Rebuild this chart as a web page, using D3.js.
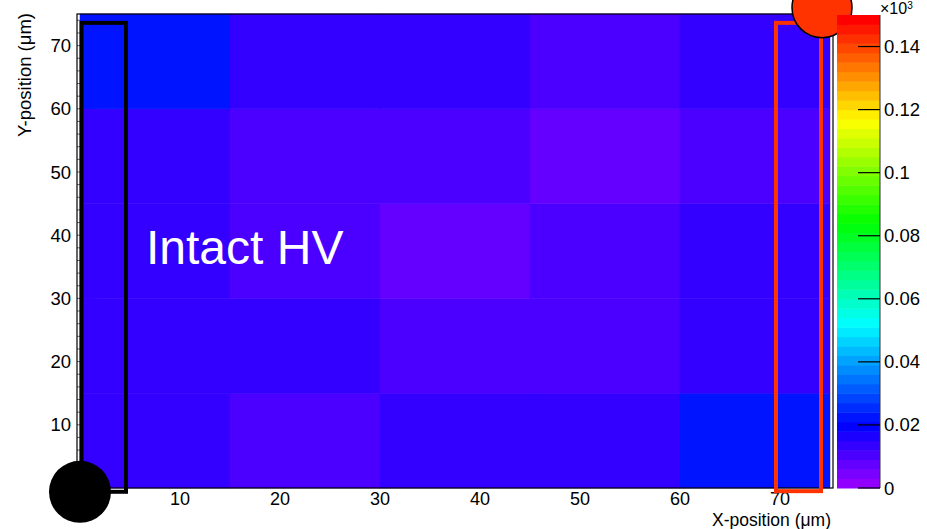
<!DOCTYPE html>
<html>
<head>
<meta charset="utf-8">
<script src="https://cdn.jsdelivr.net/npm/d3@7"></script>
<style>
  html, body { margin: 0; padding: 0; background: #fff; }
  svg { display: block; font-family: "Liberation Sans", Arial, Helvetica, sans-serif; }
</style>
</head>
<body>
<svg id="chart" width="927" height="529"></svg>
<script>
// bin edges (um)
const xEdges = [0, 15, 30, 45, 60, 75];
const yEdges = [0, 15, 30, 45, 60, 75];
// cell contents, one row per y bin, bottom row first
const row0 = [0.0131, 0.0112, 0.0138, 0.0129, 0.0226];
const row1 = [0.0133, 0.0136, 0.0108, 0.0114, 0.0132];
const row2 = [0.0130, 0.0110, 0.0081, 0.0113, 0.0134];
const row3 = [0.0128, 0.0106, 0.0109, 0.0083, 0.0111];
const row4 = [0.0224, 0.0132, 0.0135, 0.0107, 0.0131];
const rows = [row0, row1, row2, row3, row4];

const xTicks = [10, 20, 30, 40, 50, 60, 70];
const yTicks = [10, 20, 30, 40, 50, 60, 70];
const zTicks = [0, 0.02, 0.04, 0.06, 0.08, 0.1, 0.12, 0.14];
const zTickLabels = ['0', '0.02', '0.04', '0.06', '0.08', '0.1', '0.12', '0.14'];
const zMax = 0.15;
const nColors = 50;

const svg = d3.select('#chart');
const frame = { left: 77, right: 833, top: 14, bottom: 488 };

const x = d3.scaleLinear().domain([-0.3, 75.3]).range([frame.left, frame.right]);
const y = d3.scaleLinear().domain([0, 75]).range([frame.bottom, frame.top]);
const z = d3.scaleLinear().domain([0, zMax]).range([488, 15]);

// ROOT "pretty" palette: 50 hues from violet to red
const palette = d3.range(nColors).map(i =>
    i === nColors - 1 ? '#ff0000' : d3.hsl(280 - (i + 1) * 5.6, 1, 0.5).formatHex());
const colorOf = v => palette[Math.min(nColors - 1, Math.max(0, Math.floor(v / zMax * nColors)))];

// y axis ticks, drawn inward before the cells so only the edge strip shows
const yMinor = d3.range(0, 76, 2);
svg.append('g').selectAll('line')
    .data(yMinor)
    .join('line')
    .attr('x1', frame.left)
    .attr('x2', d => frame.left + (d % 10 === 0 ? 20 : 10))
    .attr('y1', d => y(d))
    .attr('y2', d => y(d))
    .attr('stroke', '#666')
    .attr('stroke-width', 1);

// cells
const cells = [];
rows.forEach((r, j) => r.forEach((v, i) => cells.push({ i, j, v })));
svg.append('g').selectAll('rect')
    .data(cells)
    .join('rect')
    .attr('x', d => x(xEdges[d.i]))
    .attr('y', d => y(yEdges[d.j + 1]))
    .attr('width', d => x(xEdges[d.i + 1]) - x(xEdges[d.i]))
    .attr('height', d => y(yEdges[d.j]) - y(yEdges[d.j + 1]))
    .attr('fill', d => colorOf(d.v))
    .attr('stroke', d => colorOf(d.v))
    .attr('stroke-width', 0.5);

// frame
svg.append('rect')
    .attr('x', frame.left).attr('y', frame.top)
    .attr('width', frame.right - frame.left).attr('height', frame.bottom - frame.top)
    .attr('fill', 'none').attr('stroke', '#000').attr('stroke-width', 1.2);

// tick labels
svg.append('g').selectAll('text')
    .data(yTicks)
    .join('text')
    .attr('x', 71)
    .attr('y', d => y(d) + 6.5)
    .attr('text-anchor', 'end')
    .attr('font-size', 18.5)
    .text(d => d);

svg.append('g').selectAll('text')
    .data(xTicks)
    .join('text')
    .attr('x', d => x(d))
    .attr('y', 505)
    .attr('text-anchor', 'middle')
    .attr('font-size', 18)
    .text(d => d);

// axis titles
svg.append('text')
    .attr('transform', 'translate(31,13) rotate(-90)')
    .attr('text-anchor', 'end')
    .attr('font-size', 18.5)
    .text('Y-position (μm)');

svg.append('text')
    .attr('x', 831).attr('y', 526)
    .attr('text-anchor', 'end')
    .attr('font-size', 17.5)
    .text('X-position (μm)');

// overlay label
svg.append('text')
    .attr('x', x(6.6)).attr('y', y(35.5))
    .attr('fill', '#fff')
    .attr('font-size', 48)
    .text('Intact HV');

// annotation boxes and pads
svg.append('rect')
    .attr('x', x(0.15)).attr('y', y(73.6))
    .attr('width', x(4.6) - x(0.15)).attr('height', y(-0.6) - y(73.6))
    .attr('fill', 'none').attr('stroke', '#000').attr('stroke-width', 4);

svg.append('rect')
    .attr('x', x(69.6)).attr('y', y(73.6))
    .attr('width', x(74.1) - x(69.6)).attr('height', y(-0.5) - y(73.6))
    .attr('fill', 'none').attr('stroke', '#ff3300').attr('stroke-width', 4);

svg.append('circle')
    .attr('cx', x(0)).attr('cy', y(-0.6)).attr('r', 31)
    .attr('fill', '#000');

svg.append('circle')
    .attr('cx', x(74.2)).attr('cy', y(76)).attr('r', 30)
    .attr('fill', '#ff3300').attr('stroke', '#000').attr('stroke-width', 1.5);

// colour bar
const bar = { left: 837, right: 880 };
const bands = d3.range(nColors);
svg.append('g').selectAll('rect')
    .data(bands)
    .join('rect')
    .attr('x', bar.left)
    .attr('y', i => z((i + 1) * zMax / nColors))
    .attr('width', bar.right - bar.left)
    .attr('height', i => z(i * zMax / nColors) - z((i + 1) * zMax / nColors) + 0.5)
    .attr('fill', i => palette[i]);

svg.append('line')
    .attr('x1', bar.right).attr('x2', bar.right)
    .attr('y1', z(zMax)).attr('y2', z(0))
    .attr('stroke', '#333').attr('stroke-width', 1);

svg.append('g').selectAll('line')
    .data(zTicks)
    .join('line')
    .attr('x1', bar.right - 22).attr('x2', bar.right)
    .attr('y1', d => z(d)).attr('y2', d => z(d))
    .attr('stroke', '#000').attr('stroke-width', 1.2);

svg.append('g').selectAll('text')
    .data(zTicks)
    .join('text')
    .attr('x', 884)
    .attr('y', d => z(d) + 6.5)
    .attr('font-size', 18.5)
    .text((d, i) => zTickLabels[i]);

const expo = svg.append('text').attr('x', 880).attr('y', 14).attr('font-size', 16);
expo.append('tspan').text('×10');
expo.append('tspan').attr('dy', -5).attr('font-size', 10).text('3');
</script>
</body>
</html>
